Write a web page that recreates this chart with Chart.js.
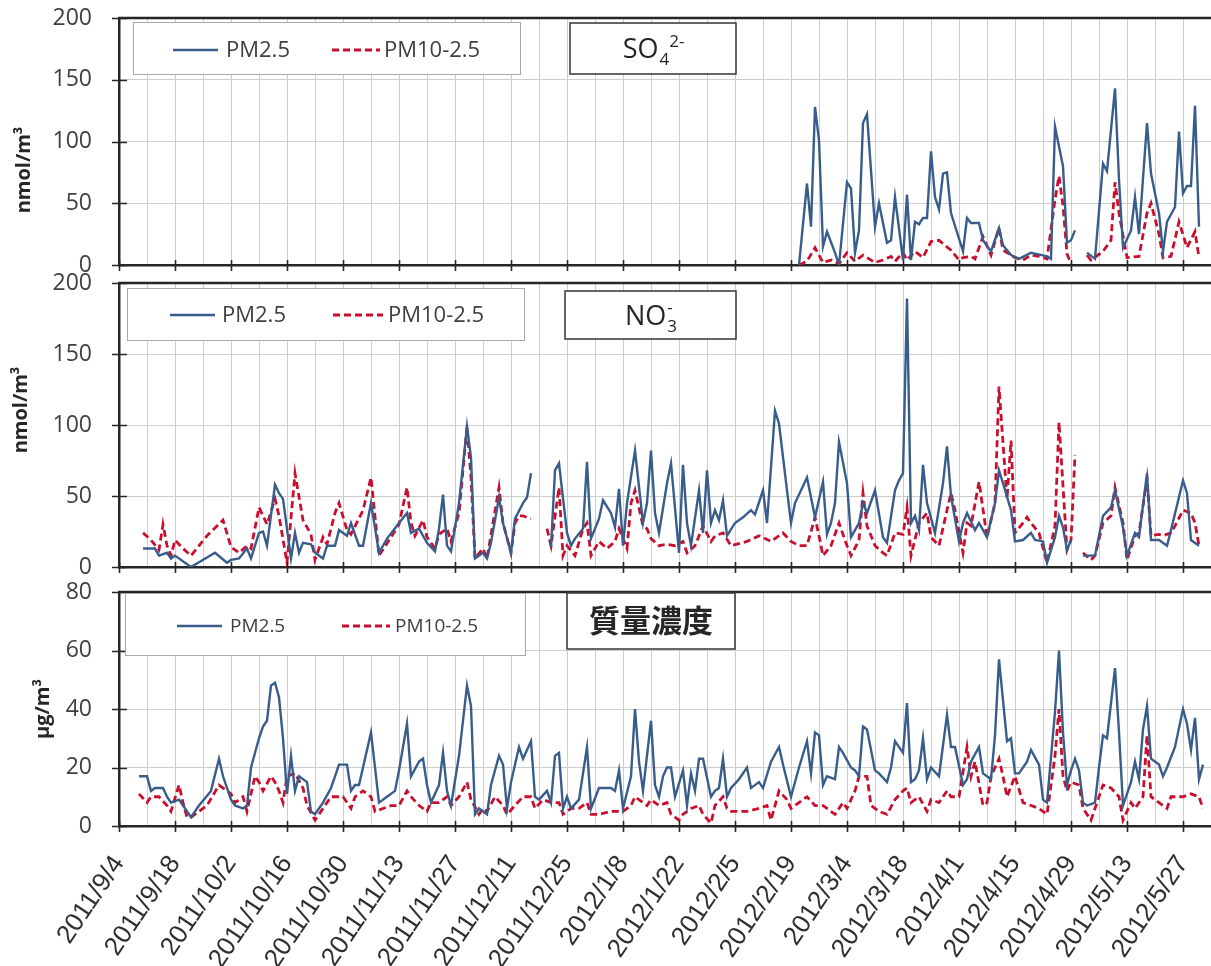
<!DOCTYPE html>
<html lang="ja">
<head>
<meta charset="UTF-8" />
<title>SO4 / NO3 / 質量濃度</title>
<script src="https://cdn.jsdelivr.net/npm/chart.js"></script>
<style>
  body { margin: 0; background: #fff; overflow: hidden; }
  #wrap { position: relative; width: 1211px; height: 966px; }
  #wrap canvas { position: absolute; left: 0; }
</style>
</head>
<body>
<div id="wrap">
  <canvas id="chartSO4" width="1211" height="282" style="top:0"></canvas>
  <canvas id="chartNO3" width="1211" height="316" style="top:266px"></canvas>
  <canvas id="chartMass" width="1211" height="391" style="top:575px"></canvas>
</div>

<script>
// x = days since 2011/9/4
const dateLabels = ['2011/9/4', '2011/9/18', '2011/10/2', '2011/10/16', '2011/10/30', '2011/11/13',
  '2011/11/27', '2011/12/11', '2011/12/25', '2012/1/8', '2012/1/22', '2012/2/5', '2012/2/19',
  '2012/3/4', '2012/3/18', '2012/4/1', '2012/4/15', '2012/4/29', '2012/5/13', '2012/5/27'];
const seriesNames = ['PM2.5', 'PM10-2.5'];

// SO4 2-  (nmol/m3)
const so4FineDays = [170,172,173,174,175,176,177,179,180,182,
  183,184,185,186,187,189,190,192,193,194, 196,197,198,199,200,201,202,203,204,205,
  206,207,208,211,212,213,215,216,218,220, 221,223,225,228,232,233,234,236,237,238,
  239,240,242,244,246,247,249,250,251,253, 254,255,257,258,260,261,262,264,265,266,
  267,268,269,270];
const so4Fine = [0,66,31,128,101,15,27,10,0,67,
  62,10,28,115,122,31,50,18,20,55, 4,57,4,35,33,38,38,92,55,45,
  74,75,42,11,38,34,34,20,11,30, 16,8,5,10,7,5,112,80,18,20,
  28,null,10,5,82,76,143,69,14,28, 55,25,115,74,42,11,35,47,108,58,
  64,64,129,31];
const so4CoarseDays = [170,172,174,176,178,180,182,184,186,189,
  191,193,194,196,197,199,201,203,205,208, 210,211,213,214,216,218,220,221,224,226,
  228,230,232,234,235,236,237,238,240,242, 243,246,248,249,250,252,255,257,258,260,
  261,263,265,267,269,270];
const so4Coarse = [0,3,14,2,4,1,10,3,8,2,
  4,7,3,10,4,11,6,19,20,12, 4,6,7,5,23,8,30,12,6,4,
  8,7,5,53,72,48,9,1,null,8, 4,11,20,67,42,6,7,42,50,25,
  6,7,35,14,27,6];

// NO3-  (nmol/m3)
const no3FineDays = [6,9,10,12,13,14,18,24,27,28,
  30,32,33,35,36,37,39,40,41,43, 44,45,46,48,49,51,52,54,55,57,
  58,60,61,63,65,67,70,72,73,75, 77,79,80,81,82,83,85,87,88,89,
  91,92,93,95,96,98,99,101,102,103, 105,108,109,110,112,113,114,116,117,118,
  120,121,123,124,125,126,127,129,131,132, 133,134,135,137,138,140,141,142,143,145,
  146,147,148,149,150,151,152,154,156,158, 159,161,162,164,165,167,168,169,172,174,
  176,177,178,179,180,182,183,185,186,187, 189,191,192,194,195,196,197,198,199,200,
  201,202,204,206,207,208,210,211,212,214, 215,217,219,220,221,223,224,226,228,229,
  231,232,234,235,236,237,238,240,241,244, 246,248,249,251,252,254,255,257,258,260,
  262,263,266,267,268,270];
const no3Fine = [13,13,8,10,6,8,0,10,3,5,
  6,13,6,24,25,15,58,52,48,6, 24,10,17,16,10,6,15,15,26,22,
  31,15,15,45,10,20,31,38,24,27, 17,11,27,51,15,11,45,99,77,6,
  10,6,17,49,31,10,34,45,49,66, null,14,68,73,24,15,20,27,74,20,
  34,47,38,28,55,15,45,82,31,45, 82,38,24,59,73,10,72,31,15,54,
  24,68,31,40,33,47,22,31,35,40, 37,54,31,110,101,54,31,45,63,35,
  60,23,31,45,88,59,21,31,45,38, 54,21,17,54,61,66,189,31,36,26,
  72,45,24,59,85,50,18,31,38,26, 31,21,45,68,59,40,18,19,24,19,
  18,3,21,36,28,12,19,null,8,8, 36,42,54,28,8,24,21,66,19,19,
  15,26,61,52,19,15];
const no3CoarseDays = [6,8,10,11,12,13,14,16,18,22,
  26,28,30,32,33,35,37,39,40,42, 44,46,48,49,51,52,54,55,57,58,
  61,63,65,68,70,72,73,74,76,77, 79,80,82,83,85,87,88,89,91,92,
  95,96,98,99,100,101,103,105,107,108, 110,111,112,114,116,117,118,120,122,124,
  125,127,128,129,131,132,133,135,137,139, 141,142,144,146,148,149,151,153,157,160,
  163,166,168,170,172,174,175,176,178,180, 182,183,185,186,187,189,191,192,194,196,
  197,198,200,202,203,205,207,208,209,211, 212,213,215,217,219,220,222,223,224,226,
  227,228,230,232,234,235,237,238,239,240, 241,243,244,246,248,249,251,252,254,255,
  257,258,260,261,263,264,266,268,269,270];
const no3Coarse = [24,19,12,30,15,8,19,13,8,22,
  33,14,10,15,13,42,30,48,36,3, 66,33,23,5,21,16,38,45,26,23,
  40,63,8,21,30,56,31,22,33,21, 13,23,27,18,38,99,63,6,13,6,
  56,31,10,31,36,36,34,null,27,15, 56,8,15,8,27,31,8,18,13,18,
  27,13,45,54,29,27,20,15,16,15, 18,10,15,29,18,22,24,15,18,22,
  18,24,18,15,15,35,22,8,15,31, 15,8,19,52,29,15,10,8,24,23,
  42,8,31,38,21,15,40,52,40,10, 31,29,60,21,45,127,48,89,24,31,
  35,31,24,3,29,102,12,19,79,null, 10,5,8,31,36,56,31,5,22,24,
  62,22,23,22,24,29,40,38,31,15];

// 質量濃度  (μg/m3)
const massFineDays = [5,7,8,9,11,12,13,15,16,18,
  20,23,25,26,28,29,31,32,33,35, 36,37,38,39,40,41,42,43,44,45,
  47,48,49,51,53,54,55,57,58,59, 60,63,65,67,69,70,72,73,75,76,
  77,78,80,81,82,83,85,87,88,89, 90,92,93,95,96,97,98,100,101,103,
  104,105,107,108,109,110,111,112,113,115, 117,118,120,123,124,125,126,128,129,130,
  131,133,134,135,136,137,138,139,141,142, 143,144,145,146,148,149,150,151,152,153,
  155,157,158,160,161,163,165,166,168,170, 172,173,174,175,176,177,179,180,181,183,
  184,185,186,187,189,190,192,193,194,196, 197,198,199,200,201,202,203,205,207,208,
  209,211,212,213,215,216,218,219,220,222, 223,224,225,227,228,230,231,232,234,235,
  236,237,238,239,240,241,242,244,245,246, 247,249,250,251,253,254,255,256,257,258,
  260,261,262,264,266,267,268,269,270,271];
const massFine = [17,17,12,13,13,10,8,9,7,3,
  7,12,23,17,9,7,6,7,20,30, 34,36,48,49,44,30,11,24,12,17,
  15,5,4,8,13,17,21,21,12,14, 14,32,8,10,12,19,35,17,22,23,
  14,8,14,25,12,7,24,48,41,4, 6,4,14,24,21,6,15,27,23,29,
  10,9,12,8,24,25,6,10,6,9, 27,6,13,13,12,19,6,17,40,22,
  12,36,14,10,17,20,20,10,19,7, 18,12,23,23,10,12,13,23,10,13,
  16,20,13,15,13,22,27,21,10,20, 29,18,32,31,14,17,16,27,25,20,
  19,17,34,33,19,18,15,20,29,25, 42,15,16,19,30,16,20,17,38,27,
  27,14,16,22,27,18,16,31,57,29, 30,18,18,22,26,21,9,8,39,60,
  32,14,19,23,19,8,7,8,20,31, 30,54,32,7,15,22,16,33,41,23,
  21,17,20,27,40,35,26,37,16,21];
const massCoarseDays = [5,7,8,10,12,13,15,16,17,18,
  22,25,28,29,31,32,34,35,36,38, 39,40,41,42,44,46,47,49,50,52,
  53,56,58,59,61,63,64,66,68,70, 72,73,75,77,78,80,82,83,85,87,
  88,90,91,92,94,96,97,99,101,103, 104,106,108,110,111,113,115,117,118,120,
  123,126,128,129,131,132,133,135,137,138, 140,141,143,145,146,148,149,151,152,153,
  157,160,162,163,165,167,168,170,172,174, 176,177,179,181,182,184,185,187,188,190,
  192,194,196,197,198,200,202,203,205,207, 208,210,212,213,214,216,217,218,220,221,
  222,224,226,228,230,232,234,235,236,237, 238,240,241,243,245,246,248,250,251,253,
  254,256,257,258,260,262,263,266,268,270, 271];
const massCoarse = [11,8,10,10,7,5,14,8,3,3,
  7,14,11,8,10,5,17,15,12,17, 15,12,8,17,18,13,7,2,4,8,
  10,10,6,10,12,10,5,6,7,7, 12,10,7,5,8,8,10,7,10,15,
  9,4,6,5,10,7,4,7,10,10, 6,9,8,8,4,6,6,8,4,4,
  5,5,7,10,8,7,9,7,8,4, 2,4,6,7,4,1,7,10,6,5,
  5,6,7,2,12,9,6,8,10,7, 7,6,4,8,6,12,17,17,7,5,
  4,9,12,13,8,10,5,9,8,12, 10,10,27,17,22,7,8,17,23,17,
  10,17,8,7,6,4,24,40,17,12, 15,14,6,2,10,14,13,10,2,8,
  6,10,31,10,8,6,10,10,11,10, 6];

const X_MAX = 273;
const BLUE = '#385d8a';
const RED = '#c8102e';
const GRID = '#cdcdcd';
const AXIS = '#262626';

Chart.defaults.font.family = "'Open Sans', sans-serif";

const weekTicks = [];
for (let d = 0; d <= X_MAX; d += 7) weekTicks.push(d);

function toPoints(days, vals) {
  return days.map((d, i) => ({ x: d, y: vals[i] }));
}

function drawRich(ctx, parts, cx, cy, o) {
  const small = Math.round(o.size * 0.64);
  const widths = parts.map(p => {
    if (p.text) {
      ctx.font = `${o.weight || 'normal'} ${o.size}px ${o.family}`;
      return ctx.measureText(p.text).width;
    }
    ctx.font = `${small}px ${o.family}`;
    return Math.max(p.sub ? ctx.measureText(p.sub).width : 0, p.sup ? ctx.measureText(p.sup).width : 0);
  });
  let x = cx - widths.reduce((a, b) => a + b, 0) / 2;
  const base = cy + o.size * 0.36;
  ctx.fillStyle = o.color;
  ctx.textAlign = 'left';
  ctx.textBaseline = 'alphabetic';
  parts.forEach((p, i) => {
    if (p.text) {
      ctx.font = `${o.weight || 'normal'} ${o.size}px ${o.family}`;
      ctx.fillText(p.text, x, base);
    } else {
      ctx.font = `${small}px ${o.family}`;
      if (p.sub) ctx.fillText(p.sub, x + 1, base + o.size * 0.26);
      if (p.sup) ctx.fillText(p.sup, x + 1, base - o.size * 0.42);
    }
    x += widths[i];
  });
}

// frame, cross ticks, axis title, legend and name boxes
const panelDecor = {
  id: 'panelDecor',
  afterDraw(chart, args, opts) {
    const ctx = chart.ctx;
    const a = chart.chartArea;
    const xs = chart.scales.x, ys = chart.scales.y;
    ctx.save();

    ctx.strokeStyle = AXIS;
    ctx.lineWidth = 2.5;
    ctx.beginPath();
    ctx.moveTo(a.left - 1, a.top);
    ctx.lineTo(a.right, a.top);
    ctx.stroke();

    ctx.lineWidth = 1.6;
    ctx.beginPath();
    for (let d = 0; d <= X_MAX; d += 14) {
      const px = Math.round(xs.getPixelForValue(d)) + 0.5;
      ctx.moveTo(px, a.bottom - 5);
      ctx.lineTo(px, a.bottom + 6);
    }
    ys.ticks.forEach(t => {
      const py = Math.round(ys.getPixelForValue(t.value)) + 0.5;
      ctx.moveTo(a.left - 7, py);
      ctx.lineTo(a.left + 8, py);
    });
    ctx.stroke();

    // y axis title
    ctx.save();
    ctx.translate(opts.yTitle.x, a.top + opts.yTitle.y);
    ctx.rotate(-Math.PI / 2);
    ctx.fillStyle = AXIS;
    ctx.font = "bold 20px 'Open Sans'";
    ctx.textAlign = 'center';
    ctx.textBaseline = 'middle';
    ctx.fillText(opts.yTitle.text, 0, 0);
    ctx.restore();

    // legend box
    const L = opts.legend;
    ctx.fillStyle = '#fff';
    ctx.fillRect(a.left + L.x0, a.top + L.y0, L.x1 - L.x0, L.y1 - L.y0);
    ctx.strokeStyle = '#a8a8a8';
    ctx.lineWidth = 1;
    ctx.strokeRect(a.left + L.x0 + 0.5, a.top + L.y0 + 0.5, L.x1 - L.x0, L.y1 - L.y0);
    const ly = a.top + L.cy;
    chart.data.datasets.forEach((ds, i) => {
      const it = L.items[i];
      ctx.strokeStyle = ds.borderColor;
      ctx.lineWidth = ds.borderWidth;
      ctx.setLineDash(ds.borderDash || []);
      ctx.beginPath();
      ctx.moveTo(a.left + it.line[0], ly);
      ctx.lineTo(a.left + it.line[1], ly);
      ctx.stroke();
      ctx.setLineDash([]);
      ctx.fillStyle = '#404040';
      ctx.font = `${L.size}px 'Open Sans'`;
      ctx.textAlign = 'left';
      ctx.textBaseline = 'middle';
      ctx.fillText(ds.label, a.left + it.text, ly + 1);
    });

    // name box
    const N = opts.name;
    ctx.fillStyle = '#fff';
    ctx.fillRect(a.left + N.x0, a.top + N.y0, N.x1 - N.x0, N.y1 - N.y0);
    ctx.strokeStyle = '#404040';
    ctx.lineWidth = 1.6;
    ctx.strokeRect(a.left + N.x0, a.top + N.y0, N.x1 - N.x0, N.y1 - N.y0);
    drawRich(ctx, N.parts, a.left + (N.x0 + N.x1) / 2, a.top + (N.y0 + N.y1) / 2, N.font);

    ctx.restore();
  }
};

function makePanel(id, cfg) {
  return new Chart(document.getElementById(id), {
    type: 'line',
    data: {
      datasets: [
        { label: seriesNames[0], data: toPoints(cfg.fineDays, cfg.fine), borderColor: BLUE,
          borderWidth: 2.4, pointRadius: 0, tension: 0, spanGaps: false },
        { label: seriesNames[1], data: toPoints(cfg.coarseDays, cfg.coarse), borderColor: RED,
          borderWidth: 2.8, borderDash: [7, 4], pointRadius: 0, tension: 0, spanGaps: false }
      ]
    },
    options: {
      responsive: false,
      animation: false,
      layout: { padding: { top: cfg.padTop, left: 0, right: 0, bottom: 0 } },
      plugins: { legend: { display: false }, tooltip: { enabled: false }, panelDecor: cfg.decor },
      scales: {
        x: {
          type: 'linear', min: 0, max: X_MAX,
          afterBuildTicks: s => { s.ticks = weekTicks.map(v => ({ value: v })); },
          afterFit: s => { s.height = cfg.xHeight; s.paddingLeft = 0; s.paddingRight = 0; },
          grid: { color: GRID, drawTicks: false },
          border: { color: AXIS, width: 2.5 },
          ticks: {
            display: cfg.showDates, autoSkip: false, maxRotation: 56, minRotation: 56, padding: 24,
            color: '#303030', font: { family: "'Liberation Sans', Arial, sans-serif", size: 26 },
            callback: v => (v % 14 === 0 ? dateLabels[v / 14] : '')
          }
        },
        y: {
          min: 0, max: cfg.yMax,
          afterFit: s => { s.width = 119; s.paddingTop = 0; s.paddingBottom = 0; },
          grid: { color: GRID, drawTicks: false },
          border: { color: AXIS, width: 2.5 },
          ticks: { stepSize: cfg.yStep, padding: 27, color: '#404040', font: { size: 23 } }
        }
      }
    },
    plugins: [panelDecor]
  });
}

makePanel('chartSO4', {
  fineDays: so4FineDays, fine: so4Fine, coarseDays: so4CoarseDays, coarse: so4Coarse,
  yMax: 200, yStep: 50, padTop: 18, xHeight: 17, showDates: false,
  decor: {
    yTitle: { text: 'nmol/m³', x: 24, y: 152 },
    legend: { x0: 14, y0: 4, x1: 401, y1: 56, cy: 32, size: 22,
      items: [{ line: [54, 99], text: 107 }, { line: [213, 261], text: 265 }] },
    name: { x0: 451, y0: 5, x1: 617, y1: 56, parts: [{ text: 'SO' }, { sub: '4' }, { sup: '2-' }],
      font: { size: 27, family: "'Open Sans'", color: '#262626' } }
  }
});

makePanel('chartNO3', {
  fineDays: no3FineDays, fine: no3Fine, coarseDays: no3CoarseDays, coarse: no3Coarse,
  yMax: 200, yStep: 50, padTop: 17, xHeight: 15, showDates: false,
  decor: {
    yTitle: { text: 'nmol/m³', x: 21, y: 127 },
    legend: { x0: 8, y0: 5, x1: 405, y1: 57, cy: 32, size: 22,
      items: [{ line: [51, 96], text: 103 }, { line: [214, 264], text: 269 }] },
    name: { x0: 446, y0: 8, x1: 617, y1: 56, parts: [{ text: 'NO' }, { sub: '3', sup: '-' }],
      font: { size: 27, family: "'Open Sans'", color: '#262626' } }
  }
});

makePanel('chartMass', {
  fineDays: massFineDays, fine: massFine, coarseDays: massCoarseDays, coarse: massCoarse,
  yMax: 80, yStep: 20, padTop: 17, xHeight: 140, showDates: true,
  decor: {
    yTitle: { text: 'μg/m³', x: 43, y: 117 },
    legend: { x0: 6, y0: 1, x1: 406, y1: 63, cy: 34, size: 19,
      items: [{ line: [58, 103], text: 111 }, { line: [223, 271], text: 276 }] },
    name: { x0: 448, y0: 1, x1: 616, y1: 57, parts: [{ text: '質量濃度' }],
      font: { size: 31, weight: 'bold', family: "'Noto Sans CJK JP'", color: '#262626' } }
  }
});
</script>
</body>
</html>
